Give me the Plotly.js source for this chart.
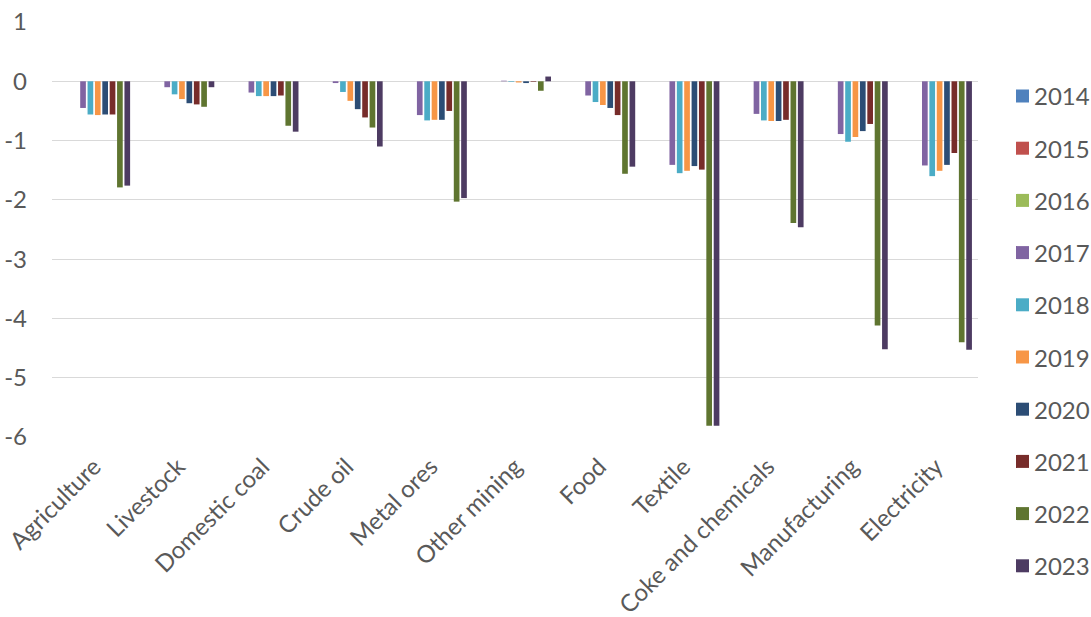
<!DOCTYPE html>
<html>
<head>
<meta charset="utf-8">
<script src="https://cdn.plot.ly/plotly-3.0.1.min.js"></script>
<style>html,body{margin:0;padding:0;background:#fff;}#chart{width:1091px;height:617px;}</style>
</head>
<body>
<div id="chart"></div>
<script>
const categories = ["Agriculture","Livestock","Domestic coal","Crude oil","Metal ores","Other mining","Food","Textile","Coke and chemicals","Manufacturing","Electricity"];
const years = ["2014","2015","2016","2017","2018","2019","2020","2021","2022","2023"];
const v2014 = [0,0,0,0,0,0,0,0,0,0,0];
const v2015 = [0,0,0,0,0,0,0,0,0,0,0];
const v2016 = [0,0,0,0,0,0,0,0,0,0,0];
const v2017 = [-0.45,-0.10,-0.19,-0.03,-0.57,0.01,-0.24,-1.41,-0.55,-0.89,-1.42];
const v2018 = [-0.56,-0.22,-0.25,-0.18,-0.66,-0.01,-0.35,-1.55,-0.66,-1.02,-1.60];
const v2019 = [-0.57,-0.30,-0.25,-0.33,-0.65,-0.02,-0.40,-1.51,-0.67,-0.94,-1.51];
const v2020 = [-0.56,-0.37,-0.25,-0.47,-0.65,-0.03,-0.45,-1.43,-0.67,-0.84,-1.41];
const v2021 = [-0.56,-0.39,-0.24,-0.61,-0.50,-0.01,-0.57,-1.49,-0.65,-0.72,-1.21];
const v2022 = [-1.79,-0.43,-0.75,-0.78,-2.03,-0.16,-1.56,-5.81,-2.39,-4.12,-4.40];
const v2023 = [-1.76,-0.10,-0.85,-1.10,-1.97,0.08,-1.44,-5.81,-2.46,-4.52,-4.53];
const seriesValues = [v2014,v2015,v2016,v2017,v2018,v2019,v2020,v2021,v2022,v2023];
const colors = ["#4F81BD","#C0504D","#9BBB59","#8064A2","#4BACC6","#F79646","#2C4D75","#772C2A","#5F7530","#4D3B62"];
const yTicks = [1,0,-1,-2,-3,-4,-5,-6];

const W = 1091, H = 617;
const M = {l:52, r:113, t:22, b:180};
const pw = W - M.l - M.r, ph = H - M.t - M.b;
const px2x = p => (p - M.l) / pw;
const py2y = p => (H - M.b - p) / ph;

const font = "Lato, 'Open Sans', sans-serif";
const grey = '#595959';
const traces = years.map((y,i)=>({
  type:'bar', name:y, x:categories, y:seriesValues[i],
  marker:{color:colors[i], line:{width:0}}, showlegend:false
}));

// legend drawn as paper-positioned squares + labels
const shapes = [], annotations = [];
years.forEach((y,i)=>{
  const cy = 96 + i*52.2;
  shapes.push({type:'rect', xref:'paper', yref:'paper',
    x0:px2x(1016), x1:px2x(1029), y0:py2y(cy+6.5), y1:py2y(cy-6.5),
    fillcolor:colors[i], line:{width:0}});
  annotations.push({xref:'paper', yref:'paper', x:px2x(1032), y:py2y(cy),
    xanchor:'left', yanchor:'middle', showarrow:false, text:y,
    font:{family:font, size:24, color:grey}});
});

const layout = {
  width:W, height:H, margin:M,
  paper_bgcolor:'#fff', plot_bgcolor:'#fff',
  barmode:'group', bargap:0.124, bargroupgap:0.23,
  font:{family:font, color:grey, size:21},
  showlegend:false, shapes, annotations,
  xaxis:{type:'category', tickangle:-45, showgrid:false, zeroline:false, showline:false,
    ticks:'', automargin:false, tickfont:{size:24, color:grey, family:font}, ticklabelstandoff:10},
  yaxis:{range:[-6,1], tickvals:yTicks, ticktext:yTicks.map(String), showgrid:true, gridcolor:'#d9d9d9', gridwidth:1,
    zeroline:true, zerolinecolor:'#d9d9d9', zerolinewidth:1, showline:false, ticks:'', automargin:false,
    tickfont:{size:24, color:grey, family:font}, ticklabelstandoff:24}
};
Plotly.newPlot('chart', traces, layout, {displayModeBar:false, staticPlot:true});
</script>
</body>
</html>
